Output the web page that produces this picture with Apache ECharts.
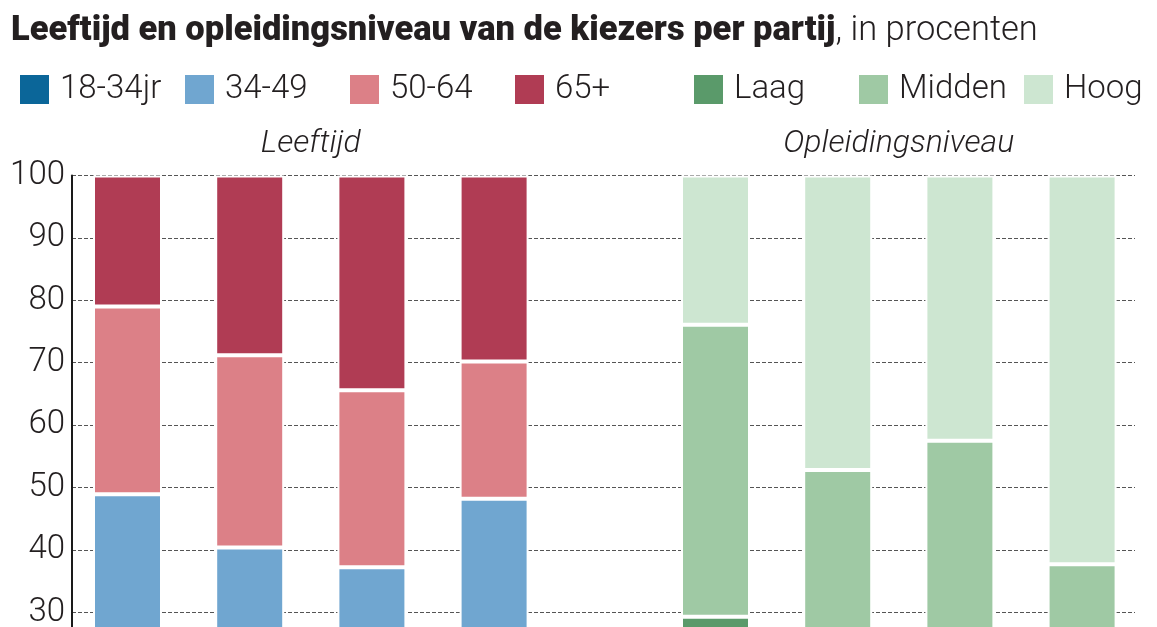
<!DOCTYPE html>
<html>
<head>
<meta charset="utf-8">
<script src="https://cdn.jsdelivr.net/npm/echarts@6/dist/echarts.min.js"></script>
<style>
html,body{margin:0;padding:0;background:#fff;}
#chart{width:1157px;height:627px;}
</style>
</head>
<body>
<div id="chart"></div>
<script>
// ---- data ----
const ageCategories = ['P1', 'P2', 'P3', 'P4'];
const eduCategories = ['P1', 'P2', 'P3', 'P4'];
const ageNames = ['18-34jr', '34-49', '50-64', '65+'];
const eduNames = ['Laag', 'Midden', 'Hoog'];
// 18-34jr lies below the visible part of the axis (estimated)
const age1834 = [22.0, 16.0, 15.0, 21.0];
const age3449 = [26.9, 24.4, 22.2, 27.2];
const age5064 = [30.1, 30.8, 28.4, 22.0];
const age65plus = [21.0, 28.8, 34.4, 29.8];
// Laag mostly below the visible part (estimated)
const eduLaag = [29.3, 21.0, 19.0, 13.0];
const eduMidden = [46.8, 31.8, 38.5, 24.7];
const eduHoog = [23.9, 47.2, 42.5, 62.3];
const yTicks = [20, 30, 40, 50, 60, 70, 80, 90, 100];

const ageColors = ['#0b6699', '#70a6d0', '#dc8087', '#b03c54'];
const eduColors = ['#5a9a6a', '#9fc9a4', '#cde6d1'];
const FONT = 'Roboto';
const TXT = '#231f20';

const chart = echarts.init(document.getElementById('chart'));

const barW = 69;
function bar(name, data, color, idx, stack) {
  return {
    name: name, type: 'bar', stack: stack, data: data,
    xAxisIndex: idx, yAxisIndex: idx, barWidth: barW,
    itemStyle: { color: color, borderColor: '#ffffff', borderWidth: 2 },
    emphasis: { disabled: true }, silent: true, animation: false
  };
}

const gridTop = 175.5;
const gridHeight = 499.2;

const legendText = { fontFamily: FONT, fontSize: 33, fontWeight: 300, color: TXT, padding: [0, 0, 0, 5] };
const ageLegendX = [18, 183, 348, 513];
const eduLegendX = [692, 857, 1022];
function legendItem(name, x) {
  return {
    data: [name], left: x, top: 73, padding: 0, itemWidth: 31, itemHeight: 31,
    icon: 'rect', selectedMode: false, textStyle: legendText
  };
}

const nameStyle = { fontFamily: FONT, fontSize: 32, fontStyle: 'italic', fontWeight: 300, color: TXT };

chart.setOption({
  animation: false,
  title: {
    text: '{b|Leeftijd en opleidingsniveau van de kiezers per partij}{n|, in procenten}',
    left: 6, top: 4,
    textStyle: {
      rich: {
        b: { fontFamily: FONT, fontSize: 34.5, fontWeight: 900, color: TXT, lineHeight: 44 },
        n: { fontFamily: FONT, fontSize: 34.5, fontWeight: 300, color: TXT, lineHeight: 44 }
      }
    }
  },
  legend: ageNames.map((n, i) => legendItem(n, ageLegendX[i]))
    .concat(eduNames.map((n, i) => legendItem(n, eduLegendX[i]))),
  grid: [
    { left: 72, width: 1063, top: gridTop, height: gridHeight, outerBoundsMode: 'none', containLabel: false },
    { left: 66.4, width: 488.8, top: gridTop, height: gridHeight, outerBoundsMode: 'none', containLabel: false },
    { left: 654.4, width: 488.8, top: gridTop, height: gridHeight, outerBoundsMode: 'none', containLabel: false }
  ],
  xAxis: [
    { gridIndex: 0, type: 'value', show: false, min: 0, max: 1 },
    {
      gridIndex: 1, type: 'category', data: ageCategories, position: 'top',
      axisLine: { show: false }, axisTick: { show: false }, axisLabel: { show: false },
      name: 'Leeftijd', nameLocation: 'middle', nameGap: 16, nameTextStyle: nameStyle
    },
    {
      gridIndex: 2, type: 'category', data: eduCategories, position: 'top',
      axisLine: { show: false }, axisTick: { show: false }, axisLabel: { show: false },
      name: 'Opleidingsniveau', nameLocation: 'middle', nameGap: 16, nameTextStyle: nameStyle
    }
  ],
  yAxis: [
    {
      gridIndex: 0, type: 'value', min: yTicks[0], max: yTicks[yTicks.length - 1], interval: 10,
      axisLine: { show: true, lineStyle: { color: '#1a1a1a', width: 2 } },
      axisTick: { show: false },
      axisLabel: { fontFamily: FONT, fontSize: 33, fontWeight: 300, color: TXT, margin: 7 },
      splitLine: { show: true, lineStyle: { color: '#555', width: 1.2, type: [4, 2] } }
    },
    { gridIndex: 1, type: 'value', min: yTicks[0], max: yTicks[yTicks.length - 1], show: false, splitLine: { show: false } },
    { gridIndex: 2, type: 'value', min: yTicks[0], max: yTicks[yTicks.length - 1], show: false, splitLine: { show: false } }
  ],
  series: [
    bar(ageNames[0], age1834, ageColors[0], 1, 'age'),
    bar(ageNames[1], age3449, ageColors[1], 1, 'age'),
    bar(ageNames[2], age5064, ageColors[2], 1, 'age'),
    bar(ageNames[3], age65plus, ageColors[3], 1, 'age'),
    bar(eduNames[0], eduLaag, eduColors[0], 2, 'edu'),
    bar(eduNames[1], eduMidden, eduColors[1], 2, 'edu'),
    bar(eduNames[2], eduHoog, eduColors[2], 2, 'edu')
  ]
});
</script>
</body>
</html>
